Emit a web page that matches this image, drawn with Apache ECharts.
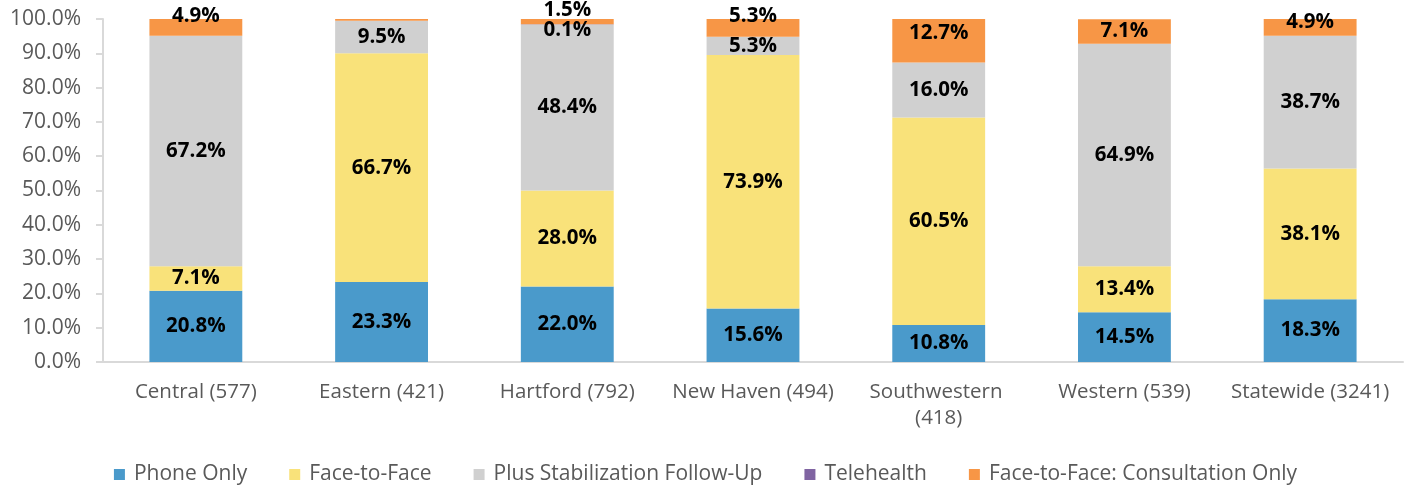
<!DOCTYPE html>
<html>
<head>
<meta charset="utf-8">
<script src="https://cdn.jsdelivr.net/npm/echarts@6/dist/echarts.min.js"></script>
<style>
  html, body { margin: 0; padding: 0; background: #fff; }
  #chart { width: 1411px; height: 490px; }
</style>
</head>
<body>
<div id="chart"></div>
<script>
const categories = ['Central (577)', 'Eastern (421)', 'Hartford (792)', 'New Haven (494)',
  'Southwestern (418)', 'Western (539)', 'Statewide (3241)']

// percent of each region
const phoneOnly = [20.8, 23.3, 22.0, 15.6, 10.8, 14.5, 18.3]
const faceToFace = [7.1, 66.7, 28.0, 73.9, 60.5, 13.4, 38.1]
const plusStabilization = [67.2, 9.5, 48.4, 5.3, 16.0, 64.9, 38.7]
const telehealth = [0, 0, 0.1, 0, 0, 0, 0]
const consultationOnly = [4.9, 0.5, 1.5, 5.3, 12.7, 7.1, 4.9]

const yTicks = [0, 10, 20, 30, 40, 50, 60, 70, 80, 90, 100]

const textGrey = '#595959'
const font = 'Open Sans'

// label tweaks for the cramped top segments (excel had them moved by hand)
const labelNudge = {
  'Telehealth|2': 6,
  'Face-to-Face: Consultation Only|0': -11,
  'Face-to-Face: Consultation Only|2': -11,
  'Face-to-Face: Consultation Only|3': -12,
  'Face-to-Face: Consultation Only|4': -8,
  'Face-to-Face: Consultation Only|6': -5
}
const labelHidden = { 'Face-to-Face: Consultation Only|1': true }

function makeSeries(name, values, color) {
  return {
    name: name,
    type: 'bar',
    stack: 'total',
    barWidth: '50%',
    itemStyle: { color: color },
    label: {
      show: true,
      position: 'inside',
      color: '#000',
      fontFamily: font,
      fontWeight: 'bold',
      fontSize: 20.5,
      formatter: function (p) {
        return p.value > 0 ? p.value.toFixed(1) + '%' : ''
      }
    },
    data: values.map(function (v, i) {
      const key = name + '|' + i
      if (labelHidden[key]) return { value: v, label: { show: false } }
      if (labelNudge[key]) return { value: v, label: { offset: [0, labelNudge[key]] } }
      return v
    })
  }
}

const chart = echarts.init(document.getElementById('chart'))
chart.setOption({
  animation: false,
  textStyle: { fontFamily: font },
  grid: { left: 103, right: 8, top: 19, bottom: 128 },
  legend: {
    bottom: 0,
    left: 'center',
    icon: 'rect',
    itemWidth: 11,
    itemHeight: 11,
    itemGap: 42,
    textStyle: { color: textGrey, fontSize: 21, fontFamily: font, padding: [0, 0, 0, 4] },
    data: ['Phone Only', 'Face-to-Face', 'Plus Stabilization Follow-Up', 'Telehealth', 'Face-to-Face: Consultation Only']
  },
  xAxis: {
    type: 'category',
    data: categories,
    axisLine: { lineStyle: { color: '#D9D9D9', width: 2 } },
    axisTick: { length: 7, lineStyle: { color: '#D9D9D9', width: 2 } },
    axisLabel: {
      color: textGrey,
      fontSize: 20.5,
      lineHeight: 26,
      margin: 17,
      interval: 0,
      width: 176,
      overflow: 'break'
    }
  },
  yAxis: {
    type: 'value',
    min: yTicks[0],
    max: yTicks[yTicks.length - 1],
    interval: yTicks[1] - yTicks[0],
    splitLine: { show: false },
    axisLine: { show: true, lineStyle: { color: '#D9D9D9', width: 2 } },
    axisTick: { show: true, length: 7, lineStyle: { color: '#D9D9D9', width: 2 } },
    axisLabel: {
      color: textGrey,
      fontSize: 21,
      margin: 22,
      formatter: function (v) { return v.toFixed(1) + '%' }
    }
  },
  series: [
    makeSeries('Phone Only', phoneOnly, '#4A9ACB'),
    makeSeries('Face-to-Face', faceToFace, '#F9E27A'),
    makeSeries('Plus Stabilization Follow-Up', plusStabilization, '#D0D0D0'),
    makeSeries('Telehealth', telehealth, '#8064A2'),
    makeSeries('Face-to-Face: Consultation Only', consultationOnly, '#F79646')
  ]
})
</script>
</body>
</html>
